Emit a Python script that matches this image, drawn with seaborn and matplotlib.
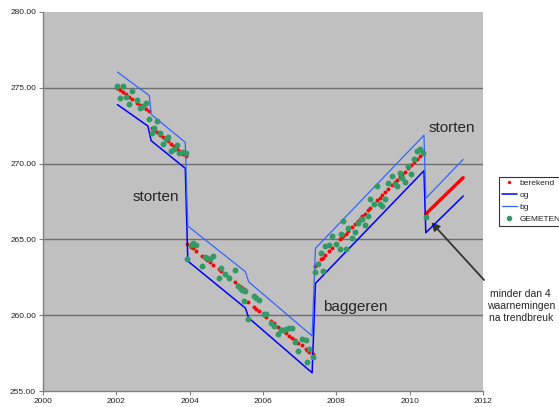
import matplotlib
matplotlib.use("Agg")
import matplotlib.pyplot as plt
from matplotlib.lines import Line2D
import seaborn as sns
import pandas as pd

# measurement dates (decimal years)
meet_jaar = [
    2002.03, 2002.11, 2002.19, 2002.26, 2002.35, 2002.43, 2002.57, 2002.65,
    2002.72, 2002.81, 2002.89, 2002.96, 2003.03, 2003.11, 2003.20, 2003.26,
    2003.35, 2003.41, 2003.50, 2003.56, 2003.65, 2003.72, 2003.82, 2003.89,
    2003.94, 2004.03, 2004.09, 2004.18, 2004.34, 2004.42, 2004.48, 2004.55,
    2004.64, 2004.79, 2004.86, 2004.95, 2005.06, 2005.23, 2005.32, 2005.40,
    2005.44, 2005.48, 2005.52, 2005.59, 2005.75, 2005.82, 2005.88, 2006.02,
    2006.09, 2006.22, 2006.29, 2006.42, 2006.49, 2006.56, 2006.64, 2006.72,
    2006.79, 2006.88, 2006.96, 2007.05, 2007.16, 2007.20, 2007.26, 2007.35,
    2007.43, 2007.50, 2007.59, 2007.64, 2007.70, 2007.80, 2007.89, 2007.98,
    2008.11, 2008.14, 2008.19, 2008.25, 2008.32, 2008.42, 2008.51, 2008.59,
    2008.66, 2008.71, 2008.78, 2008.86, 2008.92, 2009.02, 2009.12, 2009.19,
    2009.25, 2009.33, 2009.42, 2009.51, 2009.60, 2009.66, 2009.73, 2009.80,
    2009.86, 2009.96, 2010.03, 2010.12, 2010.19, 2010.28, 2010.37, 2010.44,
]

# measured levels
gemeten = [
    275.15, 274.33, 275.15, 274.37, 273.95, 274.79, 274.22, 273.65,
    273.82, 273.98, 272.94, 272.02, 272.35, 272.83, 272.00, 271.27,
    271.62, 271.75, 270.85, 270.96, 271.20, 270.72, 270.75, 270.68,
    263.70, 264.62, 264.74, 264.62, 263.27, 263.82, 263.75, 263.68,
    263.93, 262.45, 263.09, 262.74, 262.45, 263.00, 261.92, 261.72,
    261.66, 260.95, 261.62, 259.73, 261.27, 261.12, 261.00, 260.08,
    260.10, 259.48, 259.30, 258.74, 259.05, 259.05, 259.12, 259.18,
    259.13, 258.20, 257.66, 258.45, 258.34, 256.91, 257.80, 257.21,
    262.87, 263.38, 264.12, 262.94, 264.56, 264.63, 265.22, 264.70,
    264.35, 265.34, 266.23, 264.35, 265.77, 265.07, 265.47, 266.06,
    266.33, 266.35, 265.95, 266.54, 267.66, 267.31, 268.52, 267.31,
    267.20, 267.64, 268.70, 269.18, 268.65, 268.52, 269.36, 269.03,
    268.81, 269.86, 269.31, 270.30, 270.85, 270.94, 270.72, 266.46,
]

# computed trend levels at the measurement dates
berekend = [
    275.00, 274.85, 274.71, 274.58, 274.42, 274.27, 274.02, 273.87,
    273.74, 273.58, 273.44, 272.37, 272.23, 272.07, 271.89, 271.77,
    271.59, 271.47, 271.29, 271.17, 270.99, 270.85, 270.65, 270.51,
    264.70, 264.53, 264.41, 264.23, 263.92, 263.77, 263.65, 263.52,
    263.34, 263.05, 262.92, 262.74, 262.53, 262.20, 262.02, 261.87,
    261.79, 261.71, 261.63, 260.85, 260.54, 260.40, 260.29, 260.01,
    259.88, 259.62, 259.49, 259.23, 259.10, 258.96, 258.81, 258.65,
    258.51, 258.34, 258.18, 258.01, 257.79, 257.71, 257.60, 257.42,
    263.27, 263.45, 263.68, 263.80, 263.96, 264.21, 264.44, 264.67,
    265.00, 265.08, 265.20, 265.36, 265.53, 265.79, 266.02, 266.22,
    266.40, 266.53, 266.70, 266.91, 267.06, 267.31, 267.57, 267.75,
    267.90, 268.10, 268.33, 268.56, 268.79, 268.94, 269.12, 269.30,
    269.45, 269.71, 269.88, 270.11, 270.29, 270.52, 270.75, 266.68,
]

# trend continued after the last break
prognose_jaar = [2010.44, 2011.46]
prognose = [266.68, 269.07]

# lower bound (og)
og_jaar = [2002.03, 2002.86, 2002.95, 2003.88, 2003.95, 2005.52, 2005.61,
           2007.34, 2007.43, 2010.39, 2010.44, 2011.46]
og = [273.89, 272.48, 271.51, 269.69, 263.57, 260.47, 259.82,
      256.20, 262.10, 269.53, 265.44, 267.86]

# upper bound (bg)
bg_jaar = [2002.03, 2002.90, 2002.95, 2003.88, 2003.95, 2005.52, 2005.61,
           2007.34, 2007.43, 2010.39, 2010.44, 2011.46]
bg = [276.04, 274.48, 273.25, 271.40, 265.88, 262.87, 262.20,
      258.63, 264.41, 271.87, 267.71, 270.28]

x_ticks = [2000, 2002, 2004, 2006, 2008, 2010, 2012]
y_ticks = [255, 260, 265, 270, 275, 280]

C_RED = "#FF0000"
C_OG = "#0000FF"
C_BG = "#3366FF"
C_GREEN = "#339966"

sns.set_theme(style="white")
plt.rcParams["font.family"] = ["Liberation Sans", "DejaVu Sans"]

fig = plt.figure(figsize=(5.59, 4.07), dpi=100)
ax = fig.add_axes([43 / 559, 16 / 407, 440 / 559, 379 / 407])
ax.set_facecolor("#C0C0C0")

meet = pd.DataFrame({"jaar": meet_jaar, "gemeten": gemeten, "berekend": berekend})

sns.scatterplot(data=meet, x="jaar", y="berekend", ax=ax, color=C_RED,
                s=8, marker="o", linewidth=0, zorder=3)
sns.lineplot(x=prognose_jaar, y=prognose, ax=ax, color=C_RED, linewidth=2.4,
             sort=False, estimator=None, zorder=3)
sns.lineplot(x=og_jaar, y=og, ax=ax, color=C_OG, linewidth=1.1,
             sort=False, estimator=None, zorder=4)
sns.lineplot(x=bg_jaar, y=bg, ax=ax, color=C_BG, linewidth=0.9,
             sort=False, estimator=None, zorder=4)
sns.scatterplot(data=meet, x="jaar", y="gemeten", ax=ax, color=C_GREEN,
                s=18, marker="o", linewidth=0, zorder=5)

ax.set_xlim(2000, 2012)
ax.set_ylim(255, 280)
ax.set_xticks(x_ticks)
ax.set_yticks(y_ticks)
ax.set_xticklabels([str(t) for t in x_ticks])
ax.set_yticklabels([f"{t:.2f}" for t in y_ticks])
ax.set_xlabel("")
ax.set_ylabel("")

ax.yaxis.grid(True, color="#6E6E6E", linewidth=1.0)
ax.set_axisbelow(True)
for gl, val in zip(ax.get_ygridlines(), y_ticks):
    if val in (255, 280):
        gl.set_visible(False)

for side in ("top", "right"):
    ax.spines[side].set_visible(False)
for side in ("left", "bottom"):
    ax.spines[side].set_color("#808080")
    ax.spines[side].set_linewidth(1.0)
ax.tick_params(axis="both", direction="out", length=3, width=0.8,
               color="#808080", labelsize=6, labelcolor="#222222", pad=2)
ax.tick_params(axis="both", which="both", left=True, bottom=True)

# text labels inside the plot
ax.text(2002.43, 267.53, "storten", fontsize=11, ha="left", va="baseline")
ax.text(2010.51, 272.10, "storten", fontsize=11, ha="left", va="baseline")
ax.text(2007.64, 260.28, "baggeren", fontsize=11, ha="left", va="baseline")

ax.text(2013.03, 260.61, "minder dan 4\nwaarnemingen\nna trendbreuk",
        fontsize=7.5, ha="center", va="center", linespacing=1.25,
        clip_on=False)
ax.annotate("", xy=(2010.59, 266.13), xytext=(2012.03, 262.32),
            arrowprops=dict(arrowstyle="-|>", color="#333333", lw=1.3,
                            mutation_scale=12, shrinkA=0, shrinkB=0),
            annotation_clip=False)

handles = [
    Line2D([], [], linestyle="none", marker="o", markersize=2.4,
           markerfacecolor=C_RED, markeredgewidth=0),
    Line2D([], [], color=C_OG, linewidth=1.1),
    Line2D([], [], color=C_BG, linewidth=0.9),
    Line2D([], [], linestyle="none", marker="o", markersize=4,
           markerfacecolor=C_GREEN, markeredgewidth=0),
]
leg = fig.legend(handles, ["berekend", "og", "bg", "GEMETEN"],
                 loc="upper left", bbox_to_anchor=(499 / 559, 1 - 177 / 407),
                 bbox_transform=fig.transFigure, fontsize=6, frameon=True,
                 fancybox=False, borderpad=0.3, labelspacing=0.5,
                 handlelength=1.9, handletextpad=0.25, borderaxespad=0)
leg.get_frame().set_edgecolor("#000000")
leg.get_frame().set_linewidth(0.8)
leg.get_frame().set_facecolor("white")
for t in leg.get_texts():
    t.set_color("#222222")

fig.savefig("out.png", dpi=100, facecolor="white")
